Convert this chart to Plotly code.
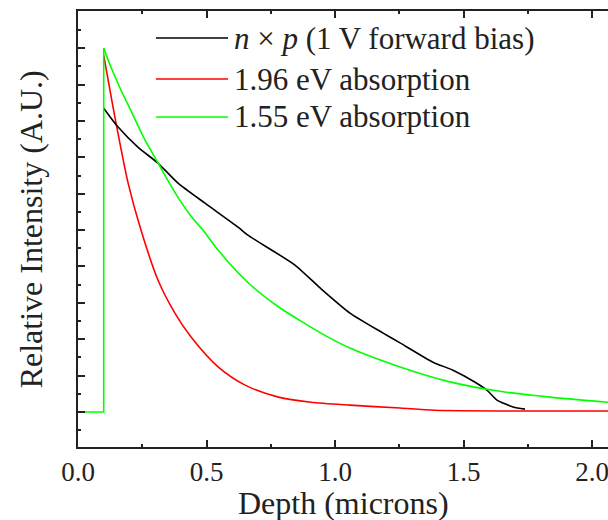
import plotly.graph_objects as go

# ---- data ----
depth_np = [0.10, 0.156, 0.233, 0.311, 0.389, 0.494, 0.623, 0.661, 0.844, 0.942,
            1.058, 1.187, 1.253, 1.381, 1.459, 1.545, 1.591, 1.630, 1.693, 1.739]
int_np = [0.835, 0.783, 0.728, 0.684, 0.629, 0.574, 0.508, 0.486, 0.404, 0.341,
          0.272, 0.217, 0.190, 0.137, 0.115, 0.082, 0.060, 0.033, 0.014, 0.008]

depth_196 = [0.10, 0.148, 0.195, 0.245, 0.311, 0.377, 0.440, 0.545, 0.650, 0.780,
             0.907, 1.058, 1.253, 1.389, 2.062]
int_196 = [0.981, 0.794, 0.629, 0.500, 0.363, 0.272, 0.206, 0.124, 0.074, 0.041,
           0.027, 0.019, 0.011, 0.005, 0.003]

# 1.55 eV: flat zero up to the surface layer edge, then the decay
depth_155_step = [0.0, 0.10, 0.10]
int_155_step = [0.0, 0.0, 1.000]
depth_155 = [0.10, 0.128, 0.167, 0.206, 0.261, 0.311, 0.350, 0.389, 0.440,
             0.486, 0.545, 0.661, 0.778, 0.883, 0.973, 1.058, 1.253, 1.447, 1.642,
             1.837, 2.062]
int_155 = [1.000, 0.948, 0.885, 0.828, 0.747, 0.685, 0.636, 0.590, 0.538,
           0.500, 0.445, 0.356, 0.290, 0.243, 0.206, 0.176, 0.124, 0.083, 0.057,
           0.041, 0.027]

labels = ["<i>n</i> × <i>p</i> (1 V forward bias)",
          "1.96 eV absorption",
          "1.55 eV absorption"]
colors = ["#000000", "#ff0000", "#00ff00"]

x_ticks = [0.0, 0.5, 1.0, 1.5, 2.0]

FONT = "Liberation Serif, Times New Roman, serif"
LW = 1.6

fig = go.Figure()
fig.add_trace(go.Scatter(x=depth_196, y=int_196, mode="lines",
                         line=dict(color=colors[1], width=LW, shape="spline", smoothing=0.8),
                         showlegend=False))
fig.add_trace(go.Scatter(x=depth_np, y=int_np, mode="lines",
                         line=dict(color=colors[0], width=LW, shape="spline", smoothing=0.6),
                         showlegend=False))
fig.add_trace(go.Scatter(x=depth_155_step, y=int_155_step, mode="lines",
                         line=dict(color=colors[2], width=LW), showlegend=False))
fig.add_trace(go.Scatter(x=depth_155, y=int_155, mode="lines",
                         line=dict(color=colors[2], width=LW, shape="spline", smoothing=0.8),
                         showlegend=False))

# manual legend
leg_y = [0.938, 0.844, 0.757]
for lab, col, yy in zip(labels, colors, leg_y):
    fig.add_shape(type="line", xref="paper", yref="paper",
                  x0=0.147, x1=0.283, y0=yy, y1=yy,
                  line=dict(color=col, width=LW))
    fig.add_annotation(xref="paper", yref="paper", x=0.29, y=yy,
                       xanchor="left", yanchor="middle", text=lab,
                       showarrow=False, font=dict(family=FONT, size=31, color="#222"))

# axis titles
fig.add_annotation(xref="paper", yref="paper", x=0.5, y=-0.128,
                   xanchor="center", yanchor="middle", text="Depth (microns)",
                   showarrow=False, font=dict(family=FONT, size=32, color="#222"))
fig.add_annotation(xref="paper", yref="paper", x=-0.088, y=0.5,
                   xanchor="center", yanchor="middle", text="Relative Intensity (A.U.)",
                   textangle=-90, showarrow=False,
                   font=dict(family=FONT, size=32, color="#222"))

fig.update_layout(
    width=608, height=520,
    margin=dict(l=78, r=0, t=11, b=73),
    paper_bgcolor="white", plot_bgcolor="white",
    showlegend=False,
    font=dict(family=FONT, color="#222"),
)
fig.update_xaxes(
    range=[0, 2.062], showgrid=False, zeroline=False,
    tickmode="array", tickvals=x_ticks, ticktext=[f"{v:.1f}" for v in x_ticks],
    ticks="inside", ticklen=7, tickwidth=2, tickcolor="#222",
    minor=dict(dtick=0.25, tick0=0, ticks="inside", ticklen=3, tickwidth=2, tickcolor="#222"),
    showline=True, linecolor="#222", linewidth=2, mirror="ticks",
    tickfont=dict(family=FONT, size=27, color="#222"),
    ticklabeloverflow="allow",
)
fig.update_yaxes(
    range=[-0.096, 1.102], showgrid=False, zeroline=False,
    tick0=0, dtick=0.1, showticklabels=False,
    ticks="inside", ticklen=7, tickwidth=2, tickcolor="#222",
    minor=dict(dtick=0.05, tick0=0, ticks="inside", ticklen=3, tickwidth=2, tickcolor="#222"),
    showline=True, linecolor="#222", linewidth=2, mirror=False,
)

fig.write_html("out.html")
